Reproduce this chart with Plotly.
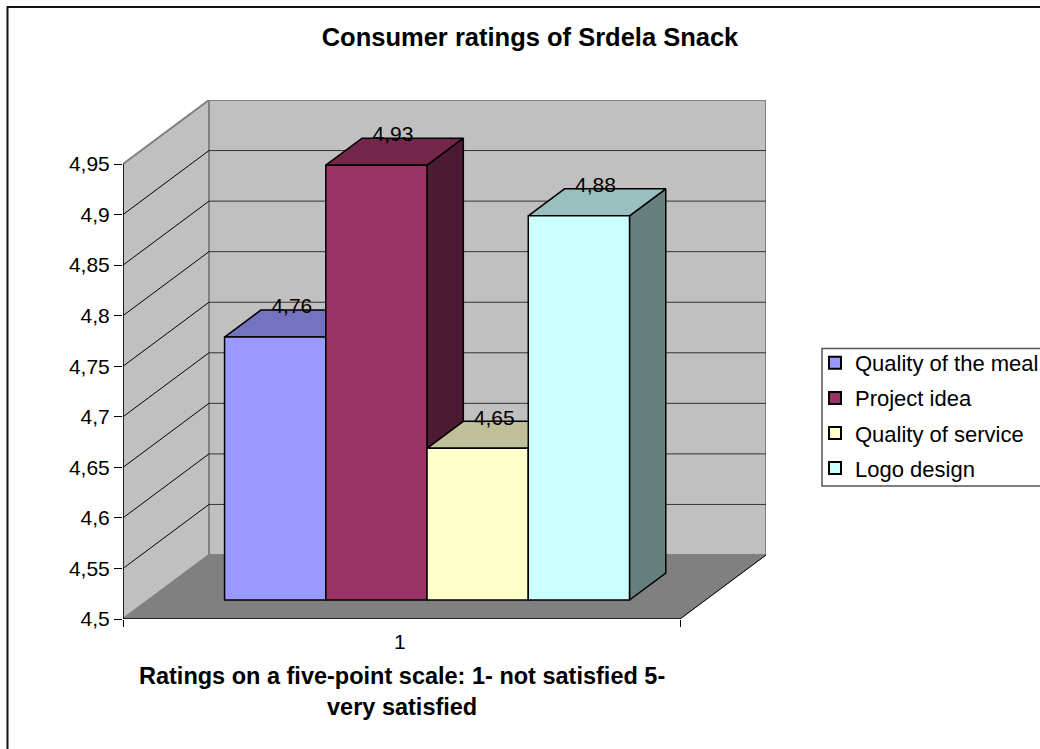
import plotly.graph_objects as go

# ---- data ----
categories = ["Quality of the meal", "Project idea", "Quality of service", "Logo design"]
ratings = [4.76, 4.93, 4.65, 4.88]
labels = ["4,76", "4,93", "4,65", "4,88"]
front_colors = ["#9999FF", "#993366", "#FFFFCC", "#CCFFFF"]
top_colors = ["#7373BF", "#732649", "#BFBF99", "#99BFBF"]
side_colors = ["#4C4C80", "#4D1A33", "#808066", "#668080"]
y_ticks = [4.5, 4.55, 4.6, 4.65, 4.7, 4.75, 4.8, 4.85, 4.9, 4.95]
y_tick_labels = ["4,5", "4,55", "4,6", "4,65", "4,7", "4,75", "4,8", "4,85", "4,9", "4,95"]
category_tick = ["1"]

# ---- oblique projection of the 3-D box ----
W, H = 1040, 749
L, R, T, B = 123, 766, 100, 619        # plot box in px
X_FRONT = 557.0                         # px for one category band at front
PX_PER_UNIT = (619 - 164) / 0.45
DX = 86 / X_FRONT                       # shift in x units over the whole depth
DV = 64 / PX_PER_UNIT                   # shift in value units over the whole depth
V0, V1 = 4.5, 4.95
D_FRONT, D_BACK = 19 / 64, 46 / 64      # where the bars sit in the depth
GAP = 0.1365
BAR_W = (1 - 2 * GAP) / len(ratings)

def proj(x, v, d):
    return x + d * DX, v + d * DV

def px_x(px):
    return (px - L) / (R - L)

def px_y(py):
    return (B - py) / (B - T)

def face(points, fill, line="#000000", width=1.5):
    xs, ys = zip(*[proj(*p) for p in points])
    return go.Scatter(x=list(xs) + [xs[0]], y=list(ys) + [ys[0]], mode="lines", fill="toself",
                      fillcolor=fill, line=dict(color=line, width=width), hoverinfo="skip",
                      showlegend=False)

def seg(p, q, color="#000000", width=1):
    a, b = proj(*p), proj(*q)
    return go.Scatter(x=[a[0], b[0]], y=[a[1], b[1]], mode="lines", line=dict(color=color, width=width),
                      hoverinfo="skip", showlegend=False)

fig = go.Figure()
# walls and floor
fig.add_trace(face([(0, V0, 0), (0, V1, 0), (0, V1, 1), (0, V0, 1)], "#C0C0C0", "#808080", 2))
fig.add_trace(face([(0, V0, 1), (0, V1, 1), (1, V1, 1), (1, V0, 1)], "#C0C0C0", "#808080", 2))
fig.add_trace(face([(0, V0, 0), (0, V0, 1), (1, V0, 1), (1, V0, 0)], "#808080", "#808080", 1))
# gridlines
for t in y_ticks[1:-1]:
    fig.add_trace(seg((0, t, 0), (0, t, 1)))
    fig.add_trace(seg((0, t, 1), (1, t, 1), "#333333"))
fig.add_trace(seg((0, V1, 0), (0, V0, 0), "#000000", 1.5))
fig.add_trace(seg((0, V0, 0), (1, V0, 0), "#000000", 1.5))
fig.add_trace(seg((1, V0, 0), (1, V0, 1), "#000000", 1))

# bar tops and sides (behind every front face)
for i, v in enumerate(ratings):
    x0 = GAP + i * BAR_W
    x1 = x0 + BAR_W
    fig.add_trace(face([(x1, V0, D_FRONT), (x1, v, D_FRONT), (x1, v, D_BACK), (x1, V0, D_BACK)], side_colors[i]))
    fig.add_trace(face([(x0, v, D_FRONT), (x0, v, D_BACK), (x1, v, D_BACK), (x1, v, D_FRONT)], top_colors[i]))

# bar fronts, on the overlay axes so they cover neighbours' sides and tops
for i, (c, v) in enumerate(zip(categories, ratings)):
    cx = GAP + (i + 0.5) * BAR_W + D_FRONT * DX
    fig.add_trace(go.Bar(x=[cx], y=[v - V0], base=[V0 + D_FRONT * DV], width=[BAR_W], name=c,
                         marker=dict(color=front_colors[i], line=dict(color="#000000", width=1.5)),
                         xaxis="x2", yaxis="y2", legendgroup=c, hoverinfo="name+y"))

# data labels
lx = [GAP + (i + 0.5) * BAR_W + DX * (D_FRONT + D_BACK) / 2 - 1.5 / X_FRONT for i in range(len(ratings))]
ly = [v + DV * D_BACK + 2 / PX_PER_UNIT for v in ratings]
fig.add_trace(go.Scatter(x=lx, y=ly, text=labels, mode="text", textposition="middle center",
                         textfont=dict(size=21, color="#000000"), xaxis="x2", yaxis="y2",
                         showlegend=False, hoverinfo="skip"))

x_range = [0, (R - L) / X_FRONT]
y_range = [V0, V1 + DV]
FONT = "Liberation Sans, Arial, sans-serif"
fig.update_layout(
    width=W, height=H, paper_bgcolor="#FFFFFF", plot_bgcolor="rgba(0,0,0,0)",
    margin=dict(l=L, r=W - R, t=T, b=H - B, autoexpand=False),
    font=dict(family=FONT, size=21, color="#000000"),
    barmode="overlay",
    title=dict(text="<b>Consumer ratings of Srdela Snack</b>", x=530 / W, xanchor="center",
               y=1 - 37 / H, yanchor="middle", font=dict(size=25.5)),
    xaxis=dict(range=x_range, showgrid=False, zeroline=False, showline=False, tickvals=[0, 1], ticktext=["", ""],
               ticks="outside", ticklen=7, tickcolor="#000000", tickwidth=1),
    yaxis=dict(range=y_range, showgrid=False, zeroline=False, showline=False, tickvals=y_ticks,
               ticktext=y_tick_labels, ticks="outside", ticklen=8, tickcolor="#000000", tickwidth=1,
               tickfont=dict(size=21)),
    xaxis2=dict(range=x_range, overlaying="x", anchor="y2", showgrid=False, zeroline=False, showline=False,
                tickvals=[0.497], ticktext=category_tick, ticks="", ticklabelstandoff=8,
                tickfont=dict(size=21)),
    yaxis2=dict(range=y_range, overlaying="y", anchor="x2", visible=False),
    legend=dict(x=px_x(815), y=px_y(342), xanchor="left", yanchor="top",
                borderwidth=0, bgcolor="rgba(0,0,0,0)", tracegroupgap=3.5,
                font=dict(size=22), itemsizing="constant"),
    annotations=[dict(text="<b>Ratings on a five-point scale: 1- not satisfied 5-<br>very satisfied</b>",
                      xref="x", x=0.5, yref="paper", y=px_y(691), xanchor="center", yanchor="middle",
                      showarrow=False, align="center", font=dict(size=23.5))],
    shapes=[
        # chart frame: runs off the canvas at the right and bottom
        dict(type="rect", xref="paper", yref="paper", layer="below",
             x0=px_x(7.5), x1=px_x(1060), y0=px_y(770), y1=px_y(7),
             line=dict(color="#111111", width=2)),
        # legend box
        dict(type="rect", xref="paper", yref="paper", layer="below",
             x0=px_x(822), x1=px_x(1060), y0=px_y(486), y1=px_y(348.5),
             line=dict(color="#555555", width=1.5)),
    ],
)
fig.write_html("out.html", post_script="document.body.style.margin='0';",
               config={"displayModeBar": False})
